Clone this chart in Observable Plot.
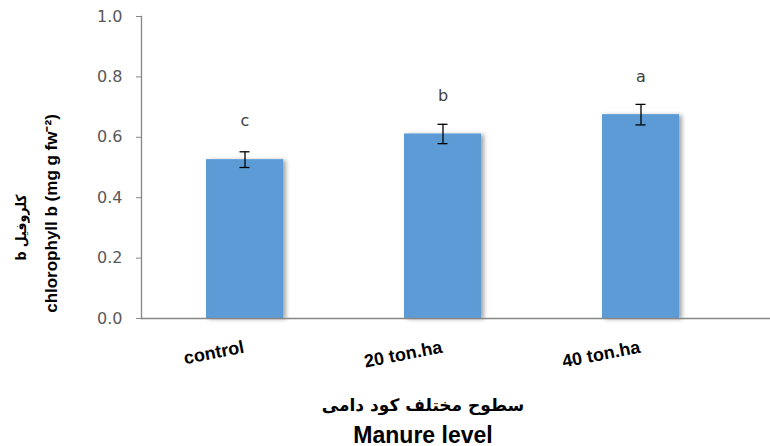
<!DOCTYPE html>
<html>
<head>
<meta charset="utf-8">
<script src="https://cdn.jsdelivr.net/npm/d3@7"></script>
<script src="https://cdn.jsdelivr.net/npm/@observablehq/plot@0.6"></script>
<style>
  html, body { margin: 0; padding: 0; background: #fff; }
</style>
</head>
<body>
<div id="chart"></div>
<script>
const categories = ["control", "20 ton.ha", "40 ton.ha"];
const values = [0.526, 0.611, 0.675];
const errors = [0.026, 0.032, 0.034];
const letters = ["c", "b", "a"];
const letterY = [0.656, 0.738, 0.801];
const yTicks = [0, 0.2, 0.4, 0.6, 0.8, 1.0];
const yTitleFa = "کلروفیل b";
const yTitleEn = "chlorophyll b (mg g fw⁻²)";
const xTitleFa = "سطوح مختلف کود دامی";
const xTitleEn = "Manure level";

const rows = categories.map((c, i) => ({
  cat: c, value: values[i], lo: values[i] - errors[i], hi: values[i] + errors[i],
  letter: letters[i], ly: letterY[i]
}));

const gray = "#868686";
const boldFont = "'Liberation Sans', Arial, sans-serif";

const chart = Plot.plot({
  width: 770,
  height: 446,
  marginLeft: 141,
  marginRight: 0,
  marginTop: 16,
  marginBottom: 128,
  style: { fontFamily: "'DejaVu Sans', sans-serif", fontSize: "16px", background: "#fff", overflow: "visible" },
  x: { domain: categories, paddingInner: 0.61, paddingOuter: 0.39, align: 0.42, axis: null },
  y: { domain: [0, 1], axis: null },
  marks: [
    Plot.barY(rows, { x: "cat", y: "value", fill: "#5B9BD5" }),
    Plot.ruleY([0], { stroke: gray, strokeWidth: 1.3 }),
    Plot.frame({ anchor: "left", stroke: gray, strokeWidth: 1.3 }),
    Plot.axisY({ ticks: yTicks, tickFormat: d3.format(".1f"), tickSize: 5, tickPadding: 14,
                 stroke: gray, fill: "#595959", fontSize: 16, label: null }),
    Plot.ruleX(rows, { x: "cat", y1: "lo", y2: "hi", stroke: "#000", strokeWidth: 1.3 }),
    Plot.tickY(rows, { x: "cat", y: "lo", stroke: "#000", strokeWidth: 1.3, insetLeft: 33.5, insetRight: 33.5 }),
    Plot.tickY(rows, { x: "cat", y: "hi", stroke: "#000", strokeWidth: 1.3, insetLeft: 33.5, insetRight: 33.5 }),
    Plot.text(rows, { x: "cat", y: "ly", text: "letter", fill: "#404040", fontSize: 16 }),
    Plot.axisX({ anchor: "bottom", tickSize: 0, tickPadding: 0, rotate: -11, textAnchor: "end",
                 lineAnchor: "bottom", dy: 34, fontSize: 18, fontWeight: "bold", fill: "#000",
                 fontFamily: boldFont, label: null }),
    Plot.text([xTitleFa], { frameAnchor: "bottom", text: d => d, dx: -33, dy: 92, lineAnchor: "bottom",
                 textAnchor: "middle", fontSize: 17, fontWeight: "bold", fill: "#000",
                 fontFamily: "'DejaVu Sans', sans-serif" }),
    Plot.text([xTitleEn], { frameAnchor: "bottom", text: d => d, dx: -33, dy: 124, lineAnchor: "bottom",
                 textAnchor: "middle", fontSize: 23, fontWeight: "bold", fill: "#000", fontFamily: boldFont }),
    Plot.text([yTitleFa], { frameAnchor: "left", text: d => d, rotate: -90, dx: -120, dy: 60,
                 textAnchor: "middle", fontSize: 14, fontWeight: "bold", fill: "#000",
                 fontFamily: "'DejaVu Sans Condensed', 'DejaVu Sans', sans-serif" }),
    Plot.text([yTitleEn], { frameAnchor: "left", text: d => d, rotate: -90, dx: -90, dy: 46,
                 textAnchor: "middle", fontSize: 17, fontWeight: "bold", fill: "#000", fontFamily: boldFont })
  ]
});

// soft drop shadow on the bars, as in the reference
const svg = d3.select(chart);
const defs = svg.insert("defs", ":first-child");
const f = defs.append("filter").attr("id", "barShadow").attr("x", "-20%").attr("y", "-5%").attr("width", "140%").attr("height", "110%");
f.append("feDropShadow").attr("dx", 3).attr("dy", 1).attr("stdDeviation", 2).attr("flood-color", "#000").attr("flood-opacity", 0.35);
svg.select("g[aria-label='bar']").attr("filter", "url(#barShadow)");
svg.selectAll("text").filter(function() { return this.textContent === yTitleFa; })
   .attr("direction", "rtl").style("unicode-bidi", "embed");

document.getElementById("chart").appendChild(chart);
</script>
</body>
</html>
